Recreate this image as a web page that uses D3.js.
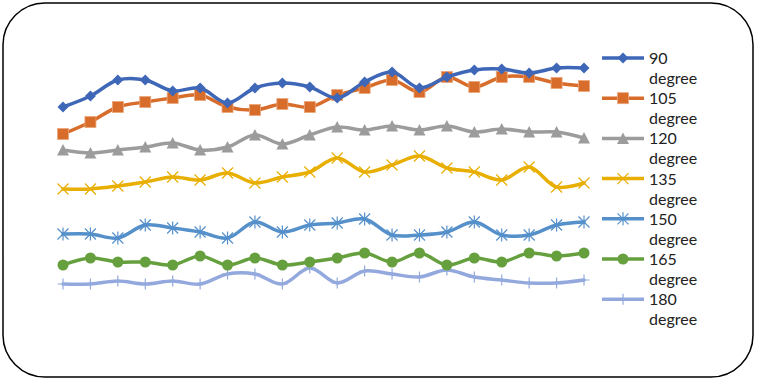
<!DOCTYPE html>
<html lang="en">
<head>
<meta charset="UTF-8">
<title>Degree series</title>
<script src="https://d3js.org/d3.v7.min.js"></script>
<style>
  body { margin: 0; background: #fff; }
  .legend_text { font-family: Lato, "Open Sans", sans-serif; font-size: 16px; fill: #222; }
</style>
</head>
<body>
<svg width="757" height="381"></svg>
<script>
    // categories (sample index) and series values
    const categories = d3.range(1, 21);
    const seriesNames = ["90 degree", "105 degree", "120 degree", "135 degree", "150 degree", "165 degree", "180 degree"];
    const deg90  = [193,204,220,220,209,212,197,212,217,213,202,218,228,212,223,230,231,227,232,232];
    const deg105 = [166,178,193,198,202,205,193,190,196,193,205,212,220,208,223,213,223,223,217,214];
    const deg120 = [150,147,150,153,157,150,153,165,156,165,173,170,174,170,174,168,171,168,168,162];
    const deg135 = [111,111,114,118,123,120,127,117,123,128,142,128,135,144,132,128,120,133,113,117];
    const deg150 = [66,66,62,75,72,68,62,78,68,75,77,81,65,65,68,78,65,65,75,78];
    const deg165 = [35,42,38,38,35,44,35,42,35,38,42,47,38,47,35,42,38,47,44,47];
    const deg180 = [16,16,19,16,19,16,26,26,16,32,17,29,26,23,30,23,20,17,17,20];

    const allValues = [deg90, deg105, deg120, deg135, deg150, deg165, deg180];
    const colors = ["#3F67B8", "#D86C2A", "#9C9C9C", "#E8AE00", "#5590CA", "#66A03E", "#93A9DE"];
    const markers = ["diamond", "square", "triangle", "x", "star", "circle", "plus"];

    let svg = d3.select("svg");

    // border
    svg.append("rect")
        .attr("x", 3).attr("y", 3)
        .attr("width", 750).attr("height", 374)
        .attr("rx", 42).attr("ry", 42)
        .attr("fill", "white")
        .attr("stroke", "black")
        .attr("stroke-width", 1.5);

    const x = d3.scalePoint().domain(categories).range([63, 584]);
    const y = d3.scaleLinear().domain([0, 250]).range([300, 50]);

    const line = d3.line()
        .x((d, i) => x(categories[i]))
        .y(d => y(d))
        .curve(d3.curveCatmullRom.alpha(0.5));

    function drawMarker(g, type, color, cx, cy) {
        const s = 5.5;
        if (type === "diamond") {
            g.append("path").attr("d", `M${cx},${cy-s}L${cx+s},${cy}L${cx},${cy+s}L${cx-s},${cy}Z`).attr("fill", color);
        } else if (type === "square") {
            g.append("rect").attr("x", cx-s).attr("y", cy-s).attr("width", 2*s).attr("height", 2*s)
                .attr("fill", color).attr("stroke", "#eba67a").attr("stroke-width", 0.8);
        } else if (type === "triangle") {
            g.append("path").attr("d", `M${cx},${cy-s-0.5}L${cx+s+0.5},${cy+s}L${cx-s-0.5},${cy+s}Z`).attr("fill", color);
        } else if (type === "x") {
            g.append("path").attr("d", `M${cx-s},${cy-s}L${cx+s},${cy+s}M${cx+s},${cy-s}L${cx-s},${cy+s}`)
                .attr("stroke", color).attr("stroke-width", 1.2);
        } else if (type === "star") {
            g.append("path").attr("d", `M${cx-s},${cy-s}L${cx+s},${cy+s}M${cx+s},${cy-s}L${cx-s},${cy+s}M${cx},${cy-s-1}L${cx},${cy+s+1}`)
                .attr("stroke", color).attr("stroke-width", 1.2);
        } else if (type === "circle") {
            g.append("circle").attr("cx", cx).attr("cy", cy).attr("r", s).attr("fill", color);
        } else if (type === "plus") {
            g.append("path").attr("d", `M${cx},${cy-s}L${cx},${cy+s}M${cx-s},${cy}L${cx+s},${cy}`)
                .attr("stroke", color).attr("stroke-width", 1.2);
        }
    }

    // series, bottom one first so upper ones sit on top
    for (let k = allValues.length - 1; k >= 0; k--) {
        const g = svg.append("g").attr("class", "series");
        g.append("path")
            .attr("d", line(allValues[k]))
            .attr("fill", "none")
            .attr("stroke", colors[k])
            .attr("stroke-width", 3.5)
            .attr("stroke-linejoin", "round")
            .attr("stroke-linecap", "round");
        allValues[k].forEach((v, i) => drawMarker(g, markers[k], colors[k], x(categories[i]), y(v)));
    }

    // legend
    const legend = svg.append("g").attr("class", "legend");
    seriesNames.forEach((name, k) => {
        const ly = 58 + k * 40.2;
        const parts = name.split(" ");
        legend.append("line")
            .attr("x1", 602).attr("x2", 644)
            .attr("y1", ly).attr("y2", ly)
            .attr("stroke", colors[k]).attr("stroke-width", 3.5);
        drawMarker(legend, markers[k], colors[k], 623, ly);
        legend.append("text").attr("class", "legend_text")
            .attr("x", 649).attr("y", ly + 6).text(parts[0]);
        legend.append("text").attr("class", "legend_text")
            .attr("x", 649).attr("y", ly + 26).text(parts[1]);
    });
</script>
</body>
</html>
